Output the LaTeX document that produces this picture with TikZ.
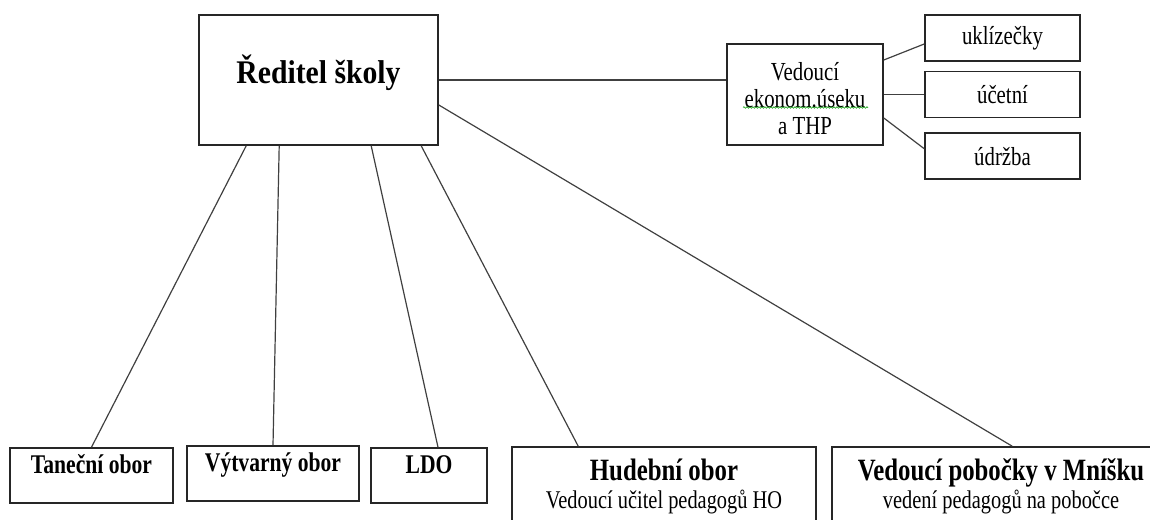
\documentclass[tikz,border=0pt]{standalone}
\usepackage{fontspec}
\setmainfont[FakeStretch=0.8]{Liberation Serif}
\newfontfamily\headfont[FakeStretch=0.9]{Liberation Serif}
\usetikzlibrary{positioning, calc, decorations.pathmorphing}

\tikzset{
  box/.style={draw=black!85, line width=1.6pt, fill=white, inner sep=2pt},
  staff/.style={box, minimum width=155pt, minimum height=46pt, font=\fontsize{26}{30}\selectfont},
  branch/.style={box, minimum height=55pt, text height=18pt, text depth=22pt, font=\bfseries\fontsize{27}{30}\selectfont},
  unit/.style={box, minimum height=78pt, align=center, font=\fontsize{25.5}{28}\selectfont},
  link/.style={draw=black!75, line width=1.2pt},
}

\begin{document}
\begin{tikzpicture}[x=1pt, y=-1pt, node distance=9pt]
  \useasboundingbox (0,0) rectangle (1150,519);
  \clip (0,0) rectangle (1150,519);

  % top
  \node[box, minimum width=239pt, minimum height=130pt, text height=23pt, text depth=16pt, font=\headfont\bfseries\fontsize{33}{36}\selectfont] (reditel) at (318.5,80) {Ředitel školy};
  \node[box, minimum width=156pt, minimum height=101pt, align=center, font=\fontsize{26}{27}\selectfont] (ekonom) at (805,94.5) {\rule{0pt}{26pt}Vedoucí\\ekonom.úseku\\a THP};

  \node[staff] (uklizecky) at (1002.5,38) {uklízečky};
  \node[staff, below=of uklizecky] (ucetni) {účetní};
  \node[staff, below=14pt of ucetni] (udrzba) {údržba};

  % bottom
  \node[branch, minimum width=163pt] (tanecni) at (91.5,475.5) {Taneční obor};
  \node[branch, minimum width=172pt] (vytvarny) at (273,473.5) {Výtvarný obor};
  \node[branch, minimum width=116pt] (ldo) at (429,475.5) {LDO};
  \node[unit, minimum width=304pt] (hudebni) at (664,486) {{\bfseries\fontsize{31}{28}\selectfont Hudební obor}\\Vedoucí učitel pedagogů HO};
  \node[unit, minimum width=338pt] (mnisku) at (1001,486) {{\bfseries\fontsize{31}{28}\selectfont Vedoucí pobočky v Mníšku}\\vedení pedagogů na pobočce};

  \draw[link] (reditel.east) -- (reditel.east -| ekonom.west);
  \draw[link] ($(ekonom.east)+(0,-34.5)$) -- ($(uklizecky.west)+(0,6)$);
  \draw[link] (ekonom.east |- ucetni.west) -- (ucetni.west);
  \draw[link] ($(ekonom.east)+(0,23.5)$) -- ($(udrzba.west)+(0,-7.5)$);

  \draw[link] ($(reditel.south west)+(48,0)$) -- (tanecni.north);
  \draw[link] ($(reditel.south west)+(81,0)$) -- (vytvarny.north);
  \draw[link] ($(reditel.south west)+(173,0)$) -- ($(ldo.north)+(9,0)$);
  \draw[link] ($(reditel.south west)+(223,0)$) -- ($(hudebni.north west)+(67,0)$);
  \draw[link] ($(reditel.east)+(0,25)$) -- ($(mnisku.north west)+(181,0)$);

  % spell-check mark
  \draw[green!60!black, line width=0.6pt, decorate, decoration={snake, amplitude=0.8pt, segment length=3pt}]
    ($(ekonom.center)+(-62,13)$) -- ++(125,0);
\end{tikzpicture}
\end{document}
